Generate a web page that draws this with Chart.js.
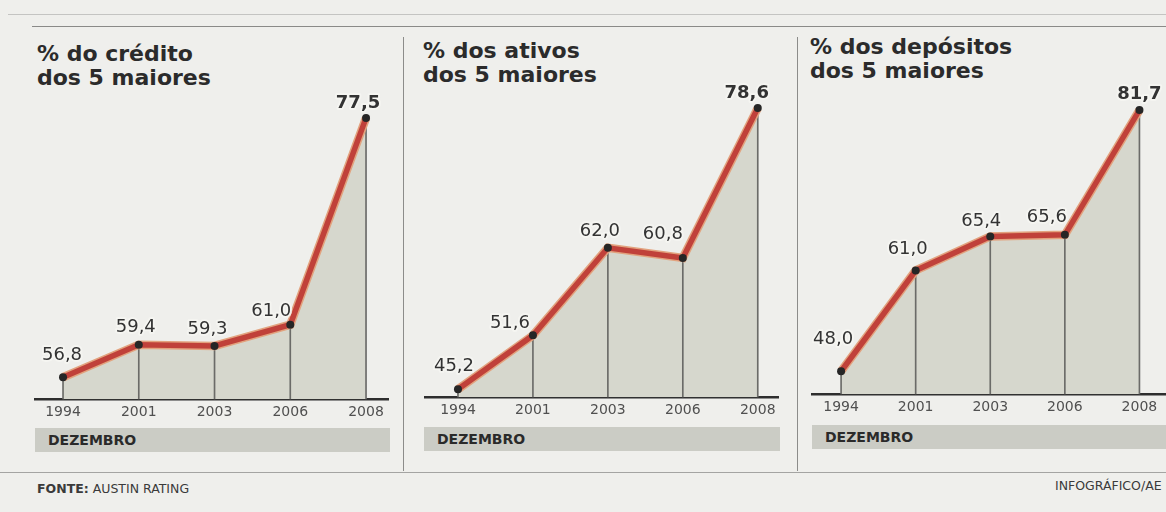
<!DOCTYPE html>
<html>
<head>
<meta charset="utf-8">
<script src="https://cdn.jsdelivr.net/npm/chart.js@4/dist/chart.umd.min.js"></script>
<style>
  body { margin: 0; background: #efefec; }
  #page { position: relative; width: 1166px; height: 512px; overflow: hidden; background: #efefec; font-family: "DejaVu Sans", sans-serif; }
  canvas { position: absolute; }
  .title { position: absolute; font-weight: bold; font-size: 22px; line-height: 24px; color: #2b2b2b; white-space: nowrap; }
  .band { position: absolute; height: 24px; background: #cbccc5; font-weight: bold; font-size: 14px; line-height: 24px; color: #2a2a2a; padding-left: 13px; box-sizing: border-box; }
  .hline { position: absolute; height: 0; }
  .vline { position: absolute; width: 0; border-left: 1.5px solid #8c8c8a; }
  .note { position: absolute; font-size: 12.5px; color: #3a3a3a; white-space: nowrap; }
</style>
</head>
<body>
<div id="page">
  <div class="hline" style="left:8px; top:14px; width:1158px; border-top:1px solid #c4c4c2;"></div>
  <div class="hline" style="left:32px; top:26px; width:1134px; border-top:1.5px solid #8a8a88;"></div>
  <div class="vline" style="left:403px; top:37px; height:434px;"></div>
  <div class="vline" style="left:797px; top:37px; height:434px;"></div>
  <div class="hline" style="left:0px; top:472px; width:1166px; border-top:1px solid #a4a4a2;"></div>

  <div class="title" style="left:37px; top:42px;">% do crédito<br>dos 5 maiores</div>
  <div class="title" style="left:423px; top:39px;">% dos ativos<br>dos 5 maiores</div>
  <div class="title" style="left:810px; top:35px;">% dos depósitos<br>dos 5 maiores</div>

  <canvas id="c1" width="385" height="356" style="left:20px; top:70px;"></canvas>
  <canvas id="c2" width="385" height="354" style="left:410px; top:70px;"></canvas>
  <canvas id="c3" width="380" height="351" style="left:797px; top:70px;"></canvas>

  <div class="band" style="left:35px; top:428px; width:355px;">DEZEMBRO</div>
  <div class="band" style="left:424px; top:427px; width:356px;">DEZEMBRO</div>
  <div class="band" style="left:812px; top:425px; width:360px;">DEZEMBRO</div>

  <div class="note" style="left:37px; top:481px;"><b>FONTE:</b> AUSTIN RATING</div>
  <div class="note" style="left:1055px; top:478px;">INFOGRÁFICO/AE</div>
</div>
<script>
const years = ["1994", "2001", "2003", "2006", "2008"];
const creditoValues = [56.8, 59.4, 59.3, 61.0, 77.5];
const ativosValues = [45.2, 51.6, 62.0, 60.8, 78.6];
const depositosValues = [48.0, 61.0, 65.4, 65.6, 81.7];

// where each chart sits and how its labels are nudged (style only)
const panels = [
  { id: "c1", values: creditoValues, xMin: -0.37, xMax: 4.29, yMin: 55.05, yMax: 78.93,
    pad: { left: 15, right: 17, top: 30 },
    offsets: [[-1, -22], [-3, -17], [-7, -17], [-19, -13], [-8, -15]] },
  { id: "c2", values: ativosValues, xMin: -0.44, xMax: 4.27, yMin: 44.25, yMax: 79.56,
    pad: { left: 15, right: 17, top: 30 },
    offsets: [[-4, -23], [-23, -12], [-8, -16], [-20, -24], [-11, -15]] },
  { id: "c3", values: depositosValues, xMin: -0.39, xMax: 4.45, yMin: 45.04, yMax: 83.0,
    pad: { left: 15, right: 3, top: 30 },
    offsets: [[-8, -32], [-8, -21], [-9, -15], [-18, -18], [0, -16]] }
];

const valueLabels = {
  id: "valueLabels",
  afterDatasetsDraw(chart, args, opts) {
    const ctx = chart.ctx;
    const meta = chart.getDatasetMeta(0);
    const vals = chart.data.datasets[0].data;
    ctx.save();
    ctx.textAlign = "center";
    ctx.textBaseline = "middle";
    meta.data.forEach((pt, i) => {
      const last = i === vals.length - 1;
      ctx.font = (last ? "bold " : "") + "18px 'DejaVu Sans'";
      const txt = vals[i].y.toFixed(1).replace(".", ",");
      const x = pt.x + opts.offsets[i][0];
      const y = pt.y + opts.offsets[i][1];
      ctx.lineWidth = 4;
      ctx.strokeStyle = "rgba(245,245,242,0.9)";
      ctx.lineJoin = "round";
      ctx.strokeText(txt, x, y);
      ctx.fillStyle = "#333";
      ctx.fillText(txt, x, y);
    });
    ctx.restore();
  }
};

panels.forEach(p => {
  const pts = p.values.map((v, i) => ({ x: i, y: v }));
  new Chart(document.getElementById(p.id), {
    type: "line",
    data: {
      datasets: [
        {
          data: pts,
          borderColor: "#c0413a",
          borderWidth: 5.5,
          pointRadius: 4,
          pointBackgroundColor: "#262626",
          pointBorderWidth: 0,
          tension: 0,
          fill: false
        },
        {
          data: pts,
          borderColor: "#e2a27e",
          borderWidth: 8.5,
          pointRadius: 0,
          tension: 0,
          fill: "start",
          backgroundColor: "#d6d7cd"
        },
        {
          type: "bar",
          data: pts,
          backgroundColor: "#6b6b68",
          barThickness: 1,
          grouped: false
        }
      ]
    },
    options: {
      responsive: false,
      animation: false,
      devicePixelRatio: 1,
      layout: { padding: { left: p.pad.left, right: p.pad.right, top: p.pad.top, bottom: 0 } },
      scales: {
        x: {
          type: "linear",
          min: p.xMin,
          max: p.xMax,
          offset: false,
          grid: { display: false, drawTicks: false },
          border: { display: true, color: "#2e2e2e", width: 2.5 },
          afterBuildTicks: s => { s.ticks = years.map((_, i) => ({ value: i })); },
          ticks: {
            autoSkip: false,
            maxRotation: 0,
            padding: 5,
            color: "#505050",
            font: { family: "DejaVu Sans", size: 14 },
            callback: v => years[v]
          }
        },
        y: { display: false, min: p.yMin, max: p.yMax }
      },
      plugins: {
        legend: { display: false },
        tooltip: { enabled: false },
        filler: { drawTime: "beforeDatasetsDraw" },
        valueLabels: { offsets: p.offsets }
      }
    },
    plugins: [valueLabels]
  });
});
</script>
</body>
</html>
